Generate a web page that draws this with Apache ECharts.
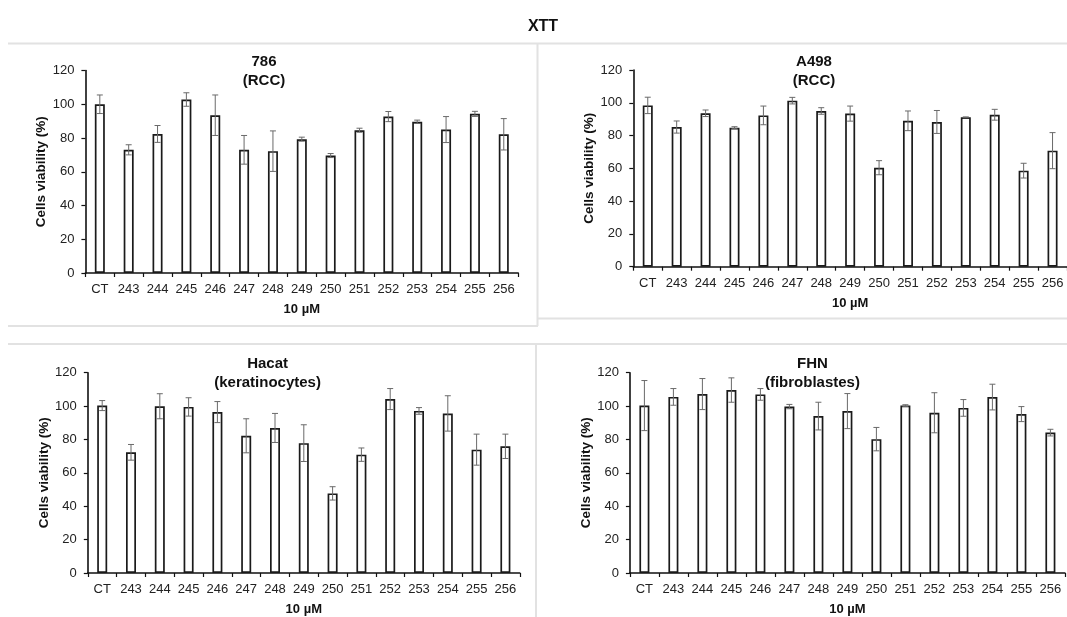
<!DOCTYPE html>
<html>
<head>
<meta charset="utf-8">
<script src="https://cdn.jsdelivr.net/npm/echarts@6/dist/echarts.min.js"></script>
<style>
html,body{margin:0;padding:0;background:#fff;}
#chart{width:1067px;height:617px;}
</style>
</head>
<body>
<div id="chart"></div>
<script>
// ---- data ----
const categories = ['CT','243','244','245','246','247','248','249','250','251','252','253','254','255','256'];
const yMin = 0, yMax = 120, yStep = 20;
const mainTitle = 'XTT';
const panelTitles = ['786\n(RCC)', 'A498\n(RCC)', 'Hacat\n(keratinocytes)', 'FHN\n(fibroblastes)'];
const xName = '10 µM';
const yName = 'Cells viability (%)';

const v786   = [100, 73, 82.4, 102.8, 93.5, 73, 72.2, 79.3, 69.6, 84.6, 92.7, 89.6, 85, 94.3, 82.2];
const e786   = [5.5, 3, 5, 4, 12, 8.5, 12, 1.2, 1.2, 1.2, 3, 1, 7.7, 1.5, 9.3];
const vA498  = [98.4, 85.2, 93.6, 84.8, 92.3, 101.3, 95, 93.4, 60.4, 89, 88.3, 91.1, 92.7, 58.6, 70.8];
const eA498  = [5, 3.7, 2, 0.6, 5.7, 2, 2, 4.6, 4.3, 6, 7, 0.3, 3.3, 4.5, 11];
const vHacat = [100.3, 72.3, 99.9, 99.5, 96.4, 82.2, 86.9, 77.8, 47.7, 70.9, 104.2, 97.1, 95.6, 73.9, 75.9];
const eHacat = [3, 4.7, 7.5, 5.5, 6.3, 10.2, 8.7, 11, 4, 4, 6.3, 2, 10.6, 9.3, 7.3];
const vFHN   = [100.3, 105.5, 107.2, 109.6, 107, 99.7, 94, 97, 80.2, 100.3, 96, 98.9, 105.4, 95.2, 84.1];
const eFHN   = [15, 5, 9.3, 7.3, 3.5, 1.3, 8.3, 10.5, 7, 0.5, 12, 5, 7.7, 4.5, 2];

const values = [v786, vA498, vHacat, vFHN];
const errors = [e786, eA498, eHacat, eFHN];

// ---- layout ----
const FONT = '"Liberation Sans", Arial, Helvetica, sans-serif';
const grids = [
  {left: 85.4, top: 70.5, width: 432.8, height: 202.5},
  {left: 633.3, top: 70, width: 433.7, height: 196.7},
  {left: 87.8, top: 372.7, width: 432, height: 202},
  {left: 629.9, top: 372.7, width: 435, height: 201}
];
const titlePos = [
  {x: 264, y: 52.5},
  {x: 814, y: 52.5},
  {x: 267.6, y: 354.5},
  {x: 812.4, y: 354.5}
];

function errRender(params, api) {
  const i = api.value(0), lo = api.value(1), hi = api.value(2);
  const pLo = api.coord([i, lo]);
  const pHi = api.coord([i, hi]);
  const hw = 3;
  const style = {stroke: '#6a6a6a', lineWidth: 1};
  return {
    type: 'group',
    children: [
      {type: 'line', shape: {x1: pLo[0], y1: pLo[1], x2: pHi[0], y2: pHi[1]}, style: style},
      {type: 'line', shape: {x1: pHi[0] - hw, y1: pHi[1], x2: pHi[0] + hw, y2: pHi[1]}, style: style},
      {type: 'line', shape: {x1: pLo[0] - hw, y1: pLo[1], x2: pLo[0] + hw, y2: pLo[1]}, style: style}
    ]
  };
}

const option = {
  animation: false,
  backgroundColor: '#fff',
  textStyle: {fontFamily: FONT},
  title: [{
    text: mainTitle, left: 543, top: 19, textAlign: 'center', padding: 0,
    textStyle: {fontFamily: FONT, fontSize: 16, fontWeight: 'bold', color: '#111'}
  }].concat(panelTitles.map((t, k) => ({
    text: t, left: titlePos[k].x, top: titlePos[k].y, textAlign: 'center', padding: 0, z: 10,
    textStyle: {fontFamily: FONT, fontSize: 15, fontWeight: 'bold', color: '#111', lineHeight: 19}
  }))),
  grid: grids.map(g => Object.assign({containLabel: false}, g)),
  xAxis: grids.map((g, k) => ({
    type: 'category', gridIndex: k, data: categories,
    name: xName, nameLocation: 'middle', nameGap: 30,
    nameTextStyle: {fontFamily: FONT, fontSize: 13, fontWeight: 'bold', color: '#111'},
    axisLine: {lineStyle: {color: '#111', width: 1.6}},
    axisTick: {show: true, length: 4, lineStyle: {color: '#111', width: 1.2}},
    axisLabel: {fontFamily: FONT, fontSize: 13, color: '#222', margin: 10, interval: 0},
    splitLine: {show: false}
  })),
  yAxis: grids.map((g, k) => ({
    type: 'value', gridIndex: k, min: yMin, max: yMax, interval: yStep,
    name: yName, nameLocation: 'middle', nameGap: 37, nameRotate: 90,
    nameTextStyle: {fontFamily: FONT, fontSize: 13.5, fontWeight: 'bold', color: '#111'},
    axisLine: {show: true, lineStyle: {color: '#111', width: 1.6}},
    axisTick: {show: true, length: 4, lineStyle: {color: '#111', width: 1.2}},
    axisLabel: {fontFamily: FONT, fontSize: 13, color: '#222', margin: 11},
    splitLine: {show: false}
  })),
  series: [].concat(...values.map((vals, k) => ([
    {
      type: 'bar', xAxisIndex: k, yAxisIndex: k, data: vals, barWidth: 10,
      itemStyle: {color: '#fff', borderColor: '#1a1a1a', borderWidth: 1.7},
      z: 2
    },
    {
      type: 'custom', xAxisIndex: k, yAxisIndex: k, renderItem: errRender,
      data: vals.map((v, i) => [i, v - errors[k][i], v + errors[k][i]]),
      z: 3
    }
  ]))),
  graphic: [
    {type: 'line', shape: {x1: 8, y1: 43.5, x2: 1067, y2: 43.5}, style: {stroke: '#e2e2e2', lineWidth: 2}},
    {type: 'line', shape: {x1: 537.5, y1: 43.5, x2: 537.5, y2: 326}, style: {stroke: '#e2e2e2', lineWidth: 2}},
    {type: 'line', shape: {x1: 8, y1: 326, x2: 538, y2: 326}, style: {stroke: '#e2e2e2', lineWidth: 2}},
    {type: 'line', shape: {x1: 537.5, y1: 318.5, x2: 1067, y2: 318.5}, style: {stroke: '#e2e2e2', lineWidth: 2}},
    {type: 'line', shape: {x1: 8, y1: 344, x2: 1067, y2: 344}, style: {stroke: '#e2e2e2', lineWidth: 2}},
    {type: 'line', shape: {x1: 536, y1: 344, x2: 536, y2: 617}, style: {stroke: '#e2e2e2', lineWidth: 2}}
  ]
};

const chart = echarts.init(document.getElementById('chart'), null, {renderer: 'canvas'});
chart.setOption(option);
</script>
</body>
</html>
